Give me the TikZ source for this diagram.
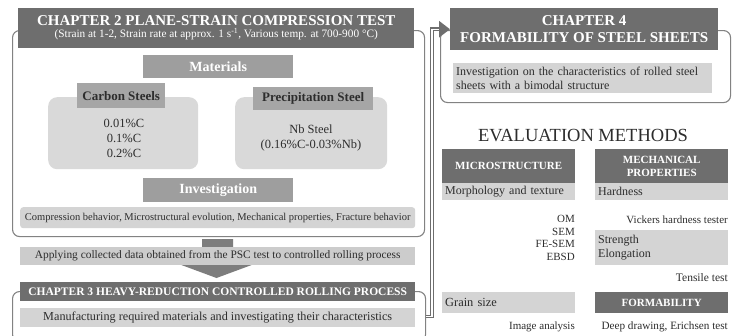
\documentclass[tikz,border=0pt]{standalone}
\usepackage{fontspec}
\setmainfont{Liberation Serif}
\usetikzlibrary{arrows.meta,calc}
\definecolor{hdr}{RGB}{110,110,110}
\definecolor{midg}{RGB}{158,158,158}
\definecolor{lblg}{RGB}{166,166,166}
\definecolor{lightg}{RGB}{217,217,217}
\definecolor{barg}{RGB}{212,212,212}
\definecolor{appg}{RGB}{204,204,204}
\definecolor{frameg}{RGB}{130,130,130}
\definecolor{arrg}{RGB}{125,125,125}
\definecolor{txt}{RGB}{45,45,45}
\newcommand\fs[2]{\fontsize{#1}{#2}\selectfont}
\begin{document}
\begin{tikzpicture}[x=1pt,y=-1pt,
  box/.style={inner sep=0pt, anchor=north west, align=center, text=txt},
  hdrbox/.style={box, fill=hdr, text=white, font=\bfseries},
  midbox/.style={box, fill=midg, text=white, font=\bfseries\fs{14}{16}},
  lblbox/.style={box, fill=lblg, text=txt, font=\bfseries\fs{13}{15}},
  bar/.style={box, fill=barg},
  leftbar/.style={box, fill=barg, align=left, inner xsep=3pt},
  frame/.style={draw=frameg, line width=1.1pt, rounded corners=7pt, anchor=north west, inner sep=0pt},
  body/.style={fill=lightg, rounded corners=9pt, anchor=north west, inner sep=0pt},
  plain/.style={inner sep=0pt, text=txt, align=right},
  connout/.style={draw=hdr, line width=3.6pt, -{Triangle[length=11pt,width=16pt]}},
  connin/.style={draw=white, line width=1.3pt, shorten >=11pt}
]
\useasboundingbox[fill=white] (0,0) rectangle (738,335);

% ---------- Chapter 2 ----------
\node[frame, minimum width=412pt, minimum height=206pt] (ch2frame) at (12,30) {};
\node[hdrbox, minimum width=396pt, minimum height=40pt] (ch2head) at (18,8)
  {\fs{15}{16}CHAPTER 2 PLANE-STRAIN COMPRESSION TEST\\
   \fs{11.3}{12}\mdseries (Strain at 1-2, Strain rate at approx. 1 s\textsuperscript{-1}, Various temp. at 700-900 °C)};
\node[midbox, minimum width=150pt, minimum height=23pt] (materials) at (143,55) {Materials};
\node[body, minimum width=150pt, minimum height=72pt] (cbody) at (48,97) {};
\node[lblbox, minimum width=88pt, minimum height=25pt] (clabel) at (77,83) {Carbon Steels};
\node[plain, align=center, font=\fs{12.5}{15}] (ctext) at (124,138) {0.01\%C\\0.1\%C\\0.2\%C};
\node[body, minimum width=152pt, minimum height=72pt] (pbody) at (235,97) {};
\node[lblbox, minimum width=120pt, minimum height=23pt] (plabel) at (253,87) {Precipitation Steel};
\node[plain, align=center, font=\fs{12.5}{15}] (ptext) at (311,138) {Nb Steel\\(0.16\%C-0.03\%Nb)};
\node[midbox, minimum width=150pt, minimum height=24pt] (invest) at (143,178) {Investigation};
\node[bar, rounded corners=3pt, minimum width=395pt, minimum height=21pt, font=\fs{10.5}{12}] (compr) at (20,207)
  {Compression behavior, Microstructural evolution, Mechanical properties, Fracture behavior};

% ---------- block arrow + applying bar ----------
\fill[arrg] (202,239) -- (233,239) -- (233,263) -- (257,263) -- (216.5,278) -- (176,263) -- (202,263) -- cycle;
\node[box, fill=appg, minimum width=395pt, minimum height=18pt, font=\fs{11.4}{12}] (apply) at (20,247)
  {Applying collected data obtained from the PSC test to controlled rolling process};

% ---------- Chapter 3 ----------
\node[frame, minimum width=413pt, minimum height=50pt] (ch3frame) at (12,291) {};
\node[hdrbox, minimum width=395pt, minimum height=19pt, font=\bfseries\fs{11.5}{12}] (ch3head) at (20,282)
  {CHAPTER 3 HEAVY-REDUCTION CONTROLLED ROLLING PROCESS};
\node[bar, minimum width=395pt, minimum height=19pt, font=\fs{12.2}{13}] (manuf) at (20,308)
  {Manufacturing required materials and investigating their characteristics};

% ---------- Chapter 4 ----------
\node[frame, minimum width=290pt, minimum height=72pt] (ch4frame) at (440,30) {};
\node[hdrbox, minimum width=268pt, minimum height=42pt, font=\bfseries\fs{15}{17}] (ch4head) at (450,8)
  {CHAPTER 4\\FORMABILITY OF STEEL SHEETS};
\node[leftbar, text width=253pt, minimum height=30pt, font=\fs{12}{13.5}] (ch4bar) at (453,63)
  {Investigation on the characteristics of rolled steel\\sheets with a bimodal structure};

\draw[connout] (ch3frame.east) -- ++(6,0) |- (ch4head.west);
\draw[connin] (ch3frame.east) -- ++(6,0) |- (ch4head.west);

% ---------- Evaluation methods ----------
\node[inner sep=0pt, text=txt, font=\fs{18.5}{20}] (evtitle) at (583,136) {EVALUATION METHODS};

\node[hdrbox, minimum width=133pt, minimum height=34pt, font=\bfseries\fs{11}{13}] (micro) at (442,149) {MICROSTRUCTURE};
\node[leftbar, text width=127pt, minimum height=17pt, font=\fs{12}{12}] (morph) at (442,183) {Morphology and texture};
\node[plain, anchor=north east, font=\fs{11}{12.6}] (omlist) at (575,215) {OM\\SEM\\FE-SEM\\EBSD};
\node[leftbar, text width=127pt, minimum height=21pt, font=\fs{12.4}{13}] (grain) at (442,292) {Grain size};
\node[plain, anchor=east, font=\fs{11}{12}] (imgan) at (575,327) {Image analysis};

\node[hdrbox, minimum width=133pt, minimum height=34pt, font=\bfseries\fs{11}{13}] (mech) at (595,149) {MECHANICAL\\PROPERTIES};
\node[leftbar, text width=127pt, minimum height=17pt, font=\fs{12}{12}] (hard) at (595,183) {Hardness};
\node[plain, anchor=east, font=\fs{11}{12}] (vick) at (728,220) {Vickers hardness tester};
\node[leftbar, text width=127pt, minimum height=35pt, font=\fs{12}{14}] (strength) at (595,230) {Strength\\Elongation};
\node[plain, anchor=east, font=\fs{11.5}{12}] (tensile) at (728,278) {Tensile test};
\node[hdrbox, minimum width=133pt, minimum height=21pt, font=\bfseries\fs{11}{12}] (form) at (595,292) {FORMABILITY};
\node[plain, anchor=east, font=\fs{11.2}{12}] (deep) at (728,327) {Deep drawing, Erichsen test};
\end{tikzpicture}
\end{document}
